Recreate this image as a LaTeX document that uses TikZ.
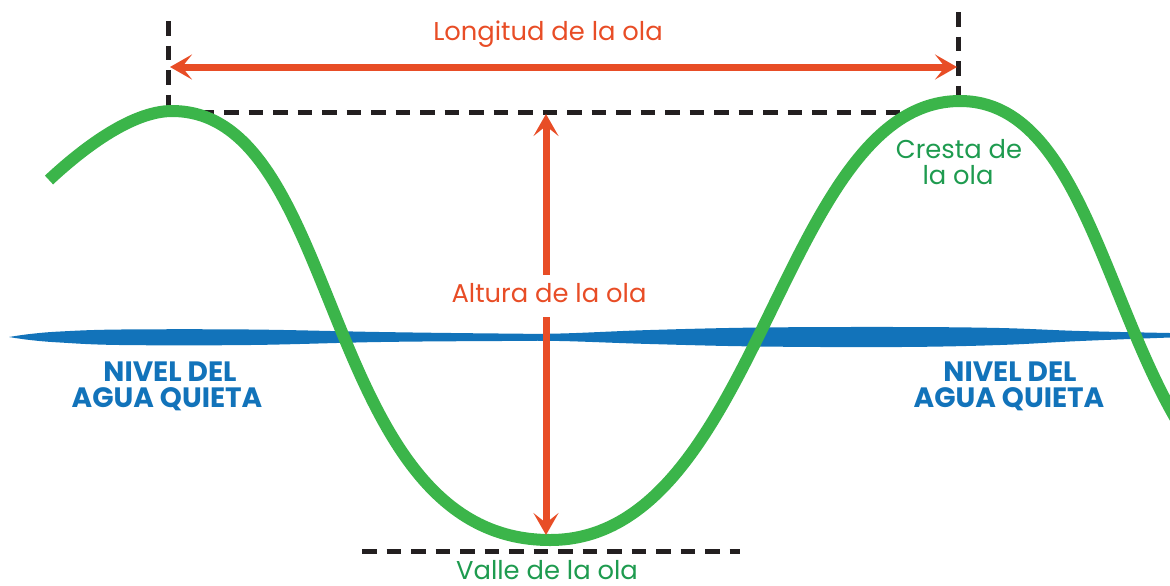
\documentclass[tikz,border=0pt]{standalone}
\usepackage{fontspec}
\setmainfont{Poppins}
\usetikzlibrary{arrows.meta}
\definecolor{wavegreen}{HTML}{3BB54A}
\definecolor{textgreen}{HTML}{1E9B4F}
\definecolor{arrowred}{HTML}{E84D26}
\definecolor{waterblue}{HTML}{1273BA}
\definecolor{dashblack}{HTML}{231F20}
\tikzset{
  guide/.style={draw=dashblack, line width=2.5pt, dash pattern=on 7.25pt off 5pt},
  wave/.style={draw=wavegreen, line width=6pt, line join=round},
  measure/.style={draw=arrowred, line width=3.5pt},
  redtip/.tip={Stealth[length=11pt,width=12.5pt,inset=5pt]},
  redlabel/.style={text=arrowred, inner sep=0pt, anchor=base, font=\fontsize{12.9}{13}\selectfont},
  greenlabel/.style={text=textgreen, inner sep=0pt, anchor=base, font=\fontsize{12.9}{13}\selectfont},
  bluelabel/.style={text=waterblue, inner sep=0pt, anchor=base, font=\fontsize{14}{14}\selectfont\bfseries},
}
\begin{document}
\begin{tikzpicture}[x=0.5pt,y=-0.5pt]
\useasboundingbox (0,0) rectangle (1170,585);
\begin{scope}
\clip (0,0) rectangle (1170,585);
% guide coordinates
\coordinate (vlTop) at (168,21);
\coordinate (vlBot) at (168,112);
\coordinate (hTopR) at (905,112);
\coordinate (vrTop) at (958,12);
\coordinate (vrBot) at (958,98);
\coordinate (hBotL) at (362,551);
\coordinate (hBotR) at (740,551);
% dashed guides
\draw[guide] (vlTop) -- (vlBot) -- (hTopR);
\draw[guide] (vrTop) -- (vrBot);
\draw[guide] (hBotL) -- (hBotR);
% still water band
\fill[waterblue] plot[smooth, tension=0.6] coordinates {(9,337) (30,334) (60,331.5) (120,329.5) (250,329.5) (380,332) (500,333.5) (560,333.5) (650,330) (760,327.5) (900,327) (1000,328) (1080,331) (1170,333)}
  -- plot[smooth, tension=0.6] coordinates {(1170,337.5) (1080,341) (1000,345) (900,347) (760,346.5) (650,344) (560,341) (500,341) (380,342) (250,345) (120,345) (60,342.5) (30,340) (9,337)} -- cycle;
% wave
\draw[wave] (49,180) .. controls (79,152) and (130,111) .. (172,111)
  .. controls (345.4,111) and (318.4,540) .. (550,540)
  .. controls (760,540) and (780,101) .. (960,101)
  .. controls (1133,101) and (1107,530) .. (1338,530);
\end{scope}
% measures
\coordinate (lenL) at (170,67);
\coordinate (lenR) at (957,67);
\draw[measure, {redtip}-{redtip}] (lenL) -- (lenR);
\coordinate (hTop) at (546,114);
\coordinate (hGapTop) at (546,275);
\coordinate (hGapBot) at (546,317);
\coordinate (hBot) at (546,535);
\draw[measure, {redtip}-] (hTop) -- (hGapTop);
\draw[measure, -{redtip}] (hGapBot) -- (hBot);
% labels
\node[redlabel] (longitud) at (548,40) {Longitud de la ola};
\node[redlabel] (altura) at (549,302) {Altura de la ola};
\node[greenlabel] (valle) at (547,579) {Valle de la ola};
\node[greenlabel] (cresta1) at (959,158) {Cresta de};
\node[greenlabel] (cresta2) at (958,184) {la ola};
\node[bluelabel] (nivelL1) at (170,381) {NIVEL DEL};
\node[bluelabel] (nivelL2) at (167,407) {AGUA QUIETA};
\node[bluelabel] (nivelR1) at (1010,381) {NIVEL DEL};
\node[bluelabel] (nivelR2) at (1009,407) {AGUA QUIETA};
\end{tikzpicture}
\end{document}
